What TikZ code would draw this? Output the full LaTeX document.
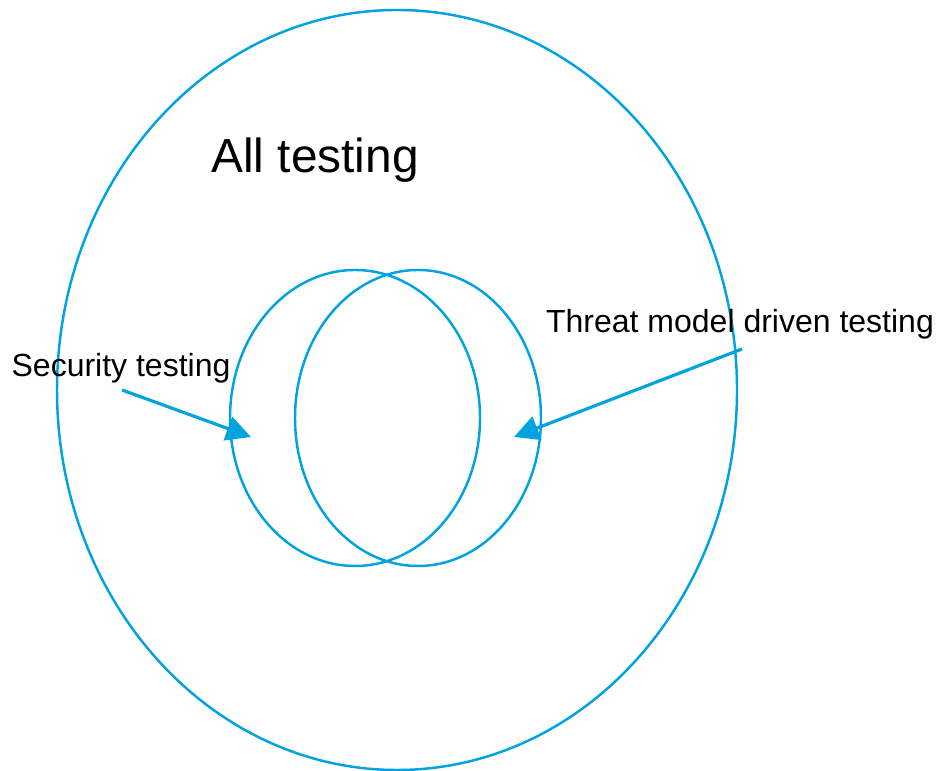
\documentclass[tikz,border=0pt]{standalone}
\usepackage{fontspec}
\setmainfont{Liberation Sans}
\usetikzlibrary{arrows.meta}
\definecolor{setblue}{RGB}{0,163,224}
\tikzset{
    setline/.style={setblue, line width=0.7pt},
    pointer/.style={setblue, line width=0.9pt, -{Triangle[length=7pt, width=7pt]}},
    caption/.style={inner sep=0pt, font=\fontsize{9.1pt}{11pt}\selectfont},
}
\begin{document}
\begin{tikzpicture}[x=0.01cm, y=-0.01cm]
    \useasboundingbox (0,0) rectangle (937,771);

    % the three sets
    \draw[setline] (397,390) ellipse (340 and 380);
    \draw[setline] (355,418) ellipse (125 and 148);
    \draw[setline] (418,418) ellipse (123 and 148);

    \node[inner sep=0pt, font=\fontsize{13.6pt}{16pt}\selectfont] (all) at (315,160) {All testing};
    \node[caption] (sec) at (121,368) {Security testing};
    \node[caption] (tmd) at (740,324) {Threat model driven testing};

    % arrow ends
    \coordinate (secfrom) at (122,390);
    \coordinate (secto) at (251,437);
    \coordinate (tmdfrom) at (742,349);
    \coordinate (tmdto) at (514,437);

    \draw[pointer] (secfrom) -- (secto);
    \draw[pointer] (tmdfrom) -- (tmdto);
\end{tikzpicture}
\end{document}
